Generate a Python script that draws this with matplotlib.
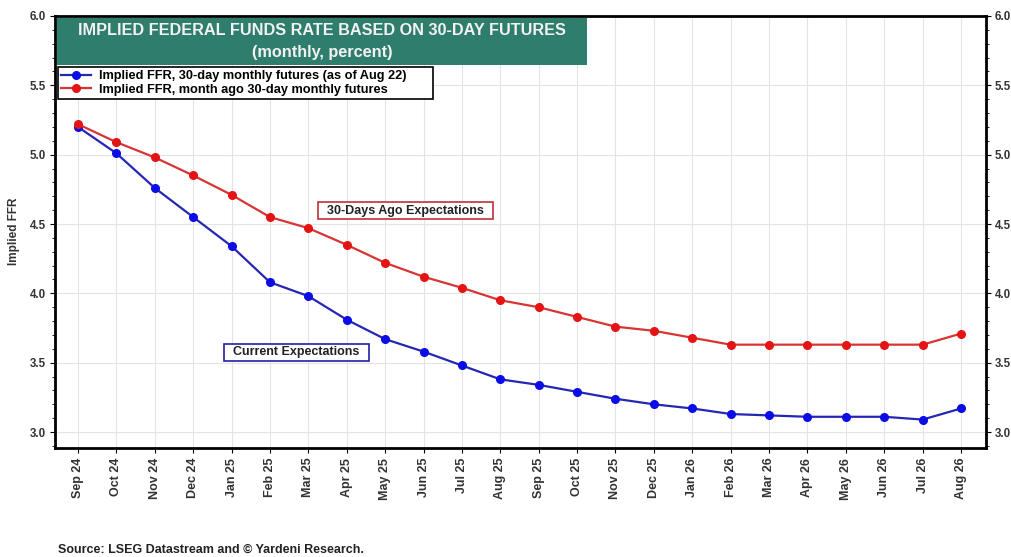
import matplotlib.pyplot as plt
from matplotlib.patches import Rectangle
from matplotlib.ticker import MultipleLocator

# monthly contract labels and implied rates
months = ['Sep 24', 'Oct 24', 'Nov 24', 'Dec 24', 'Jan 25', 'Feb 25', 'Mar 25', 'Apr 25',
          'May 25', 'Jun 25', 'Jul 25', 'Aug 25', 'Sep 25', 'Oct 25', 'Nov 25', 'Dec 25',
          'Jan 26', 'Feb 26', 'Mar 26', 'Apr 26', 'May 26', 'Jun 26', 'Jul 26', 'Aug 26']
current = [5.20, 5.01, 4.76, 4.55, 4.34, 4.08, 3.98, 3.81, 3.67, 3.58, 3.48, 3.38,
           3.34, 3.29, 3.24, 3.20, 3.17, 3.13, 3.12, 3.11, 3.11, 3.11, 3.09, 3.17]
month_ago = [5.22, 5.09, 4.98, 4.85, 4.71, 4.55, 4.47, 4.35, 4.22, 4.12, 4.04, 3.95,
             3.90, 3.83, 3.76, 3.73, 3.68, 3.63, 3.63, 3.63, 3.63, 3.63, 3.63, 3.71]

plt.rcParams['font.family'] = ['Liberation Sans', 'DejaVu Sans']

fig = plt.figure(figsize=(10.12, 5.57), dpi=100)
ax = fig.add_axes([0.0543, 0.1957, 0.920, 0.7756])

x = list(range(len(months)))
ax.plot(x, current, color='#2626b4', marker='o', markersize=5.5, mfc='#0c0ce6',
        mec='#0c0ce6', lw=1.6, zorder=3,
        label='Implied FFR, 30-day monthly futures (as of Aug 22)')
ax.plot(x, month_ago, color='#d83434', marker='o', markersize=5.5, mfc='#e41414',
        mec='#e41414', lw=1.6, zorder=3,
        label='Implied FFR, month ago 30-day monthly futures')

ax.set_xlim(-0.6, 23.65)
ax.set_ylim(2.885, 6.0)
ax.set_xticks(x)
ax.set_xticklabels(months, rotation=90, fontsize=9, fontweight='bold', color='#333333')
ax.yaxis.set_major_locator(MultipleLocator(0.5))
ax.yaxis.set_minor_locator(MultipleLocator(0.1))
ax.yaxis.set_major_formatter(plt.FormatStrFormatter('%.1f'))
ax.tick_params(axis='y', which='both', left=True, right=True, labelright=True,
               labelsize=8.3, labelcolor='#333333', pad=3)
ax.tick_params(axis='y', which='minor', length=2)
for t in ax.yaxis.get_major_ticks():
    t.label1.set_fontweight('bold')
    t.label2.set_fontweight('bold')
ax.grid(True, color='#e4e4e4', lw=0.8)
for s in ax.spines.values():
    s.set_linewidth(2)
fig.text(0.014, 0.585, 'Implied FFR', rotation=90, ha='center', va='center', fontsize=8.5,
         fontweight='bold', color='#333333')

# title banner
ax.add_patch(Rectangle((0.0021, 0.8866), 0.5693, 0.1088, transform=ax.transAxes,
                       fc='#2f7d6c', ec='none', zorder=5))
ax.text(0.2868, 0.941, 'IMPLIED FEDERAL FUNDS RATE BASED ON 30-DAY FUTURES\n(monthly, percent)',
        transform=ax.transAxes, ha='center', va='center', fontsize=11.7, fontweight='bold',
        color='#f2f2f2', linespacing=1.65, zorder=6)

leg = ax.legend(loc='upper left', bbox_to_anchor=(0.0032, 0.803, 0.4028, 0.079),
                mode='expand', fontsize=9.2, frameon=True, fancybox=False,
                borderpad=0.26, handlelength=2.35, handletextpad=0.6,
                labelspacing=0.1, borderaxespad=0)
leg.get_frame().set_edgecolor('black')
leg.get_frame().set_linewidth(1.2)
leg.get_frame().set_alpha(1)
for t in leg.get_texts():
    t.set_fontweight('bold')

ax.text(8.53, 4.595, '  30-Days Ago Expectations  ', ha='center', va='center', fontsize=9,
        fontweight='bold', color='#222222', zorder=4,
        bbox=dict(boxstyle='square,pad=0.2', fc='white', ec='#c0303a', lw=1.2))
ax.text(5.69, 3.574, '  Current Expectations  ', ha='center', va='center', fontsize=9,
        fontweight='bold', color='#222222', zorder=4,
        bbox=dict(boxstyle='square,pad=0.2', fc='white', ec='#2020a0', lw=1.2))

fig.text(0.057, 0.008, 'Source: LSEG Datastream and \u00a9 Yardeni Research.', fontsize=9,
         fontweight='bold', color='#222222')

fig.savefig('out.png', dpi=100)
